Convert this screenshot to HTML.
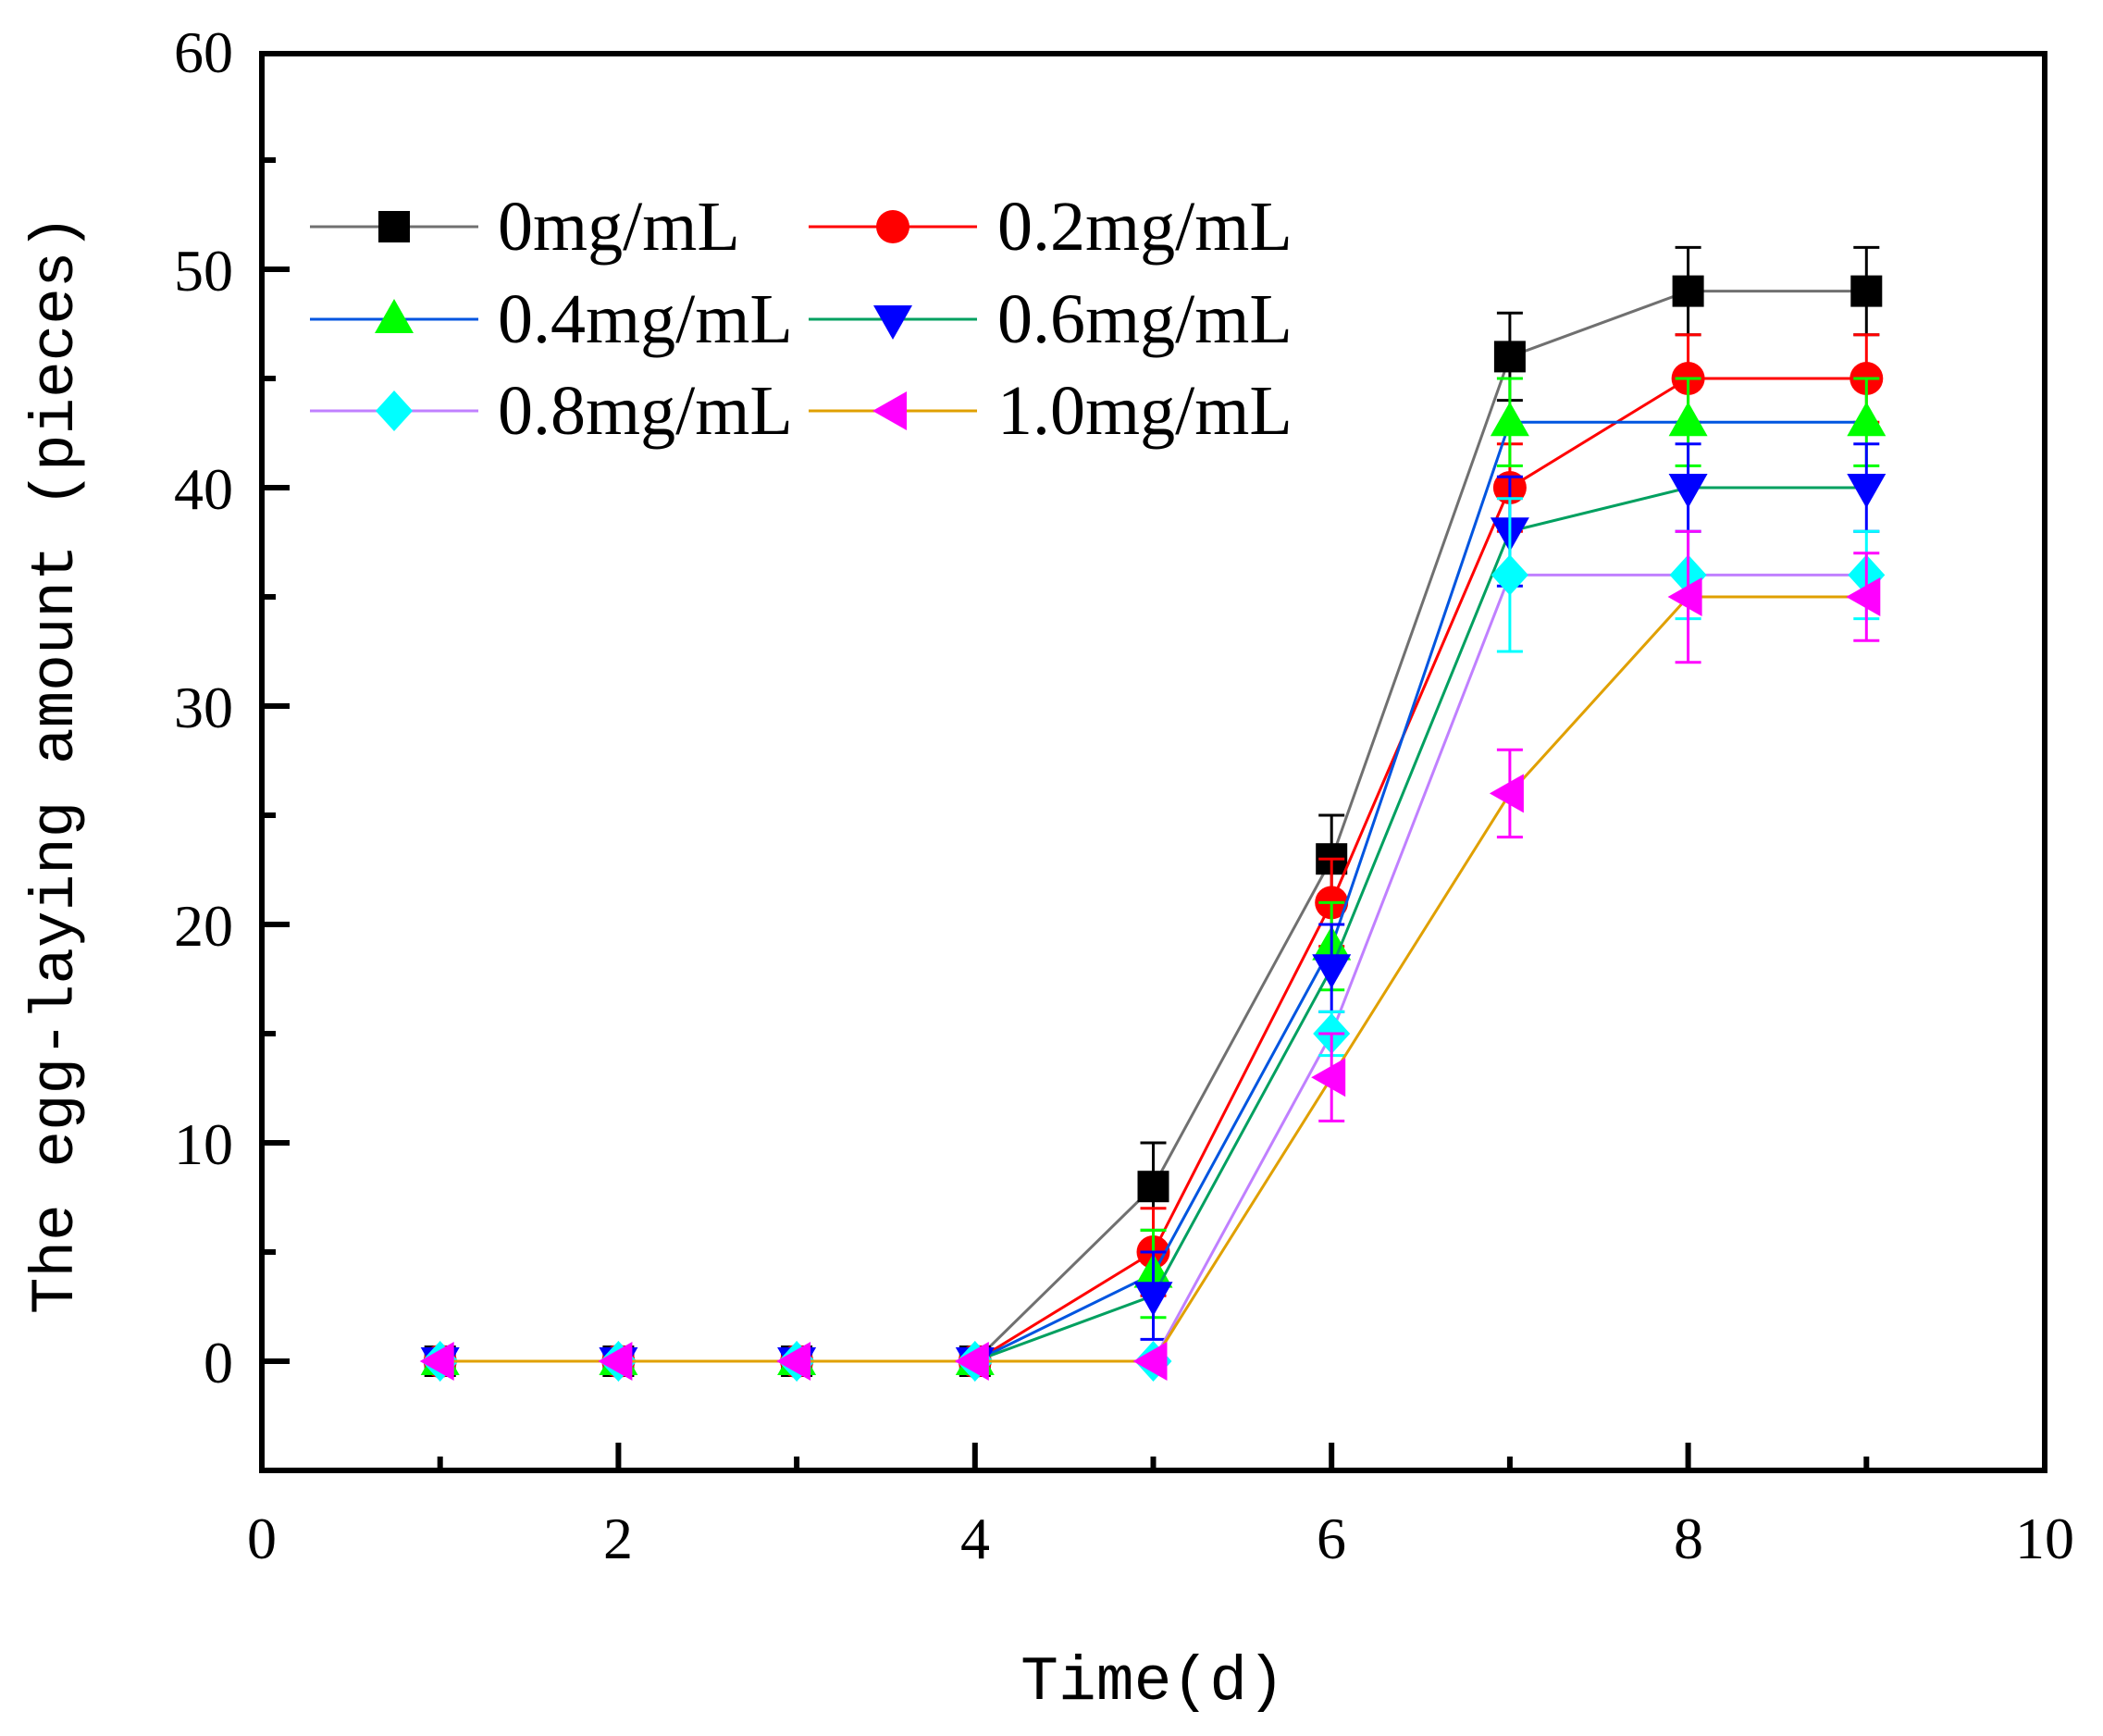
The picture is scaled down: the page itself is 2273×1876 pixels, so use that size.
<!DOCTYPE html>
<html><head><meta charset="utf-8"><style>html,body{margin:0;padding:0;background:#fff}svg{display:block}</style></head>
<body>
<svg id="s" width="2273" height="1876" viewBox="0 0 2273 1876" xmlns="http://www.w3.org/2000/svg" font-family="'Liberation Serif',serif">
<rect width="2273" height="1876" fill="#fff"/>
<g id="data"></g>
<rect x="283" y="58" width="1927" height="1531" fill="none" stroke="#000" stroke-width="6"/>
<g id="ticks" stroke="#000" stroke-width="6"></g>
<g font-size="64" fill="#000" text-anchor="end">
<text x="252" y="1494">0</text>
<text x="252" y="1258">10</text>
<text x="252" y="1022">20</text>
<text x="252" y="786">30</text>
<text x="252" y="550">40</text>
<text x="252" y="314">50</text>
<text x="252" y="78">60</text>
</g>
<g font-size="64" fill="#000" text-anchor="middle">
<text x="283" y="1684">0</text>
<text x="668" y="1684">2</text>
<text x="1054" y="1684">4</text>
<text x="1439" y="1684">6</text>
<text x="1825" y="1684">8</text>
<text x="2210" y="1684">10</text>
</g>
<text x="1246" y="1836" font-size="68" text-anchor="middle" font-family="'Liberation Mono',monospace">Time(d)</text>
<text transform="translate(78,826) rotate(-90)" font-size="66" text-anchor="middle" font-family="'Liberation Mono',monospace">The egg-laying amount (pieces)</text>
<g id="legend"></g>
<g font-size="76" fill="#000">
<text x="538" y="270">0mg/mL</text>
<text x="1078" y="270">0.2mg/mL</text>
<text x="538" y="370">0.4mg/mL</text>
<text x="1078" y="370">0.6mg/mL</text>
<text x="538" y="469">0.8mg/mL</text>
<text x="1078" y="469">1.0mg/mL</text>
</g>
</svg>
<script>
const NS="http://www.w3.org/2000/svg";
const X=v=>283+192.7*v, Y=v=>1471-23.6*v;
function el(p,t,a){const e=document.createElementNS(NS,t);for(const k in a)e.setAttribute(k,a[k]);p.appendChild(e);return e;}
const T=document.getElementById('ticks');
for(let v=-5;v<=60;v+=5){if(v===-5||v===60)continue;const L=(v%10===0)?30:15;el(T,'line',{x1:283,y1:Y(v),x2:283+L,y2:Y(v)});}
for(let v=1;v<10;v++){const L=(v%2===0)?30:15;el(T,'line',{x1:X(v),y1:1589,x2:X(v),y2:1589-L});}
const S=[
 {m:'sq',mc:'#000',lc:'#707070',y:[0,0,0,0,8,23,46,49,49],e:[0,0,0,0,2,2,2,2,2]},
 {m:'ci',mc:'#ff0000',lc:'#ff0000',y:[0,0,0,0,5,21,40,45,45],e:[0,0,0,0,2,2,2,2,2]},
 {m:'up',mc:'#00ff00',lc:'#0055e0',y:[0,0,0,0,4,19,43,43,43],e:[0,0,0,0,2,2,2,2,2]},
 {m:'dn',mc:'#0000ff',lc:'#00a060',y:[0,0,0,0,3,18,38,40,40],e:[0,0,0,0,2,2,2.5,2,2]},
 {m:'di',mc:'#00ffff',lc:'#c080ff',y:[0,0,0,0,0,15,36,36,36],e:[0,0,0,0,0,1,3.5,2,2]},
 {m:'lt',mc:'#ff00ff',lc:'#e0a000',y:[0,0,0,0,0,13,26,35,35],e:[0,0,0,0,0,2,2,3,2]}
];
function marker(g,t,x,y,c){
 if(t==='sq')el(g,'rect',{x:x-17,y:y-17,width:34,height:34,fill:c});
 else if(t==='ci')el(g,'circle',{cx:x,cy:y,r:18,fill:c});
 else if(t==='up')el(g,'polygon',{points:`${x},${y-22} ${x+21},${y+15} ${x-21},${y+15}`,fill:c});
 else if(t==='dn')el(g,'polygon',{points:`${x},${y+22} ${x+21},${y-15} ${x-21},${y-15}`,fill:c});
 else if(t==='di')el(g,'polygon',{points:`${x},${y-22} ${x+20},${y} ${x},${y+22} ${x-20},${y}`,fill:c});
 else if(t==='lt')el(g,'polygon',{points:`${x-22},${y} ${x+15},${y-21} ${x+15},${y+21}`,fill:c});
}
const D=document.getElementById('data');
S.forEach(s=>{
 const g=el(D,'g',{});
 el(g,'polyline',{points:s.y.map((v,i)=>X(i+1)+','+Y(v)).join(' '),fill:'none',stroke:s.lc,'stroke-width':3});
 s.y.forEach((v,i)=>{if(s.e[i]>0){const x=X(i+1);const a=Y(v+s.e[i]),b=Y(v-s.e[i]);
  el(g,'line',{x1:x,y1:a,x2:x,y2:b,stroke:s.mc,'stroke-width':3});
  el(g,'line',{x1:x-14,y1:a,x2:x+14,y2:a,stroke:s.mc,'stroke-width':3});
  el(g,'line',{x1:x-14,y1:b,x2:x+14,y2:b,stroke:s.mc,'stroke-width':3});}});
 s.y.forEach((v,i)=>marker(g,s.m,X(i+1),Y(v),s.mc));
});
const LG=document.getElementById('legend');
const pos=[[335,245],[874,245],[335,345],[874,345],[335,444],[874,444]];
S.forEach((s,i)=>{const [x,y]=pos[i];el(LG,'line',{x1:x,y1:y,x2:x+182,y2:y,stroke:s.lc,'stroke-width':3});marker(LG,s.m,x+91,y,s.mc);});
</script>
</body></html>
